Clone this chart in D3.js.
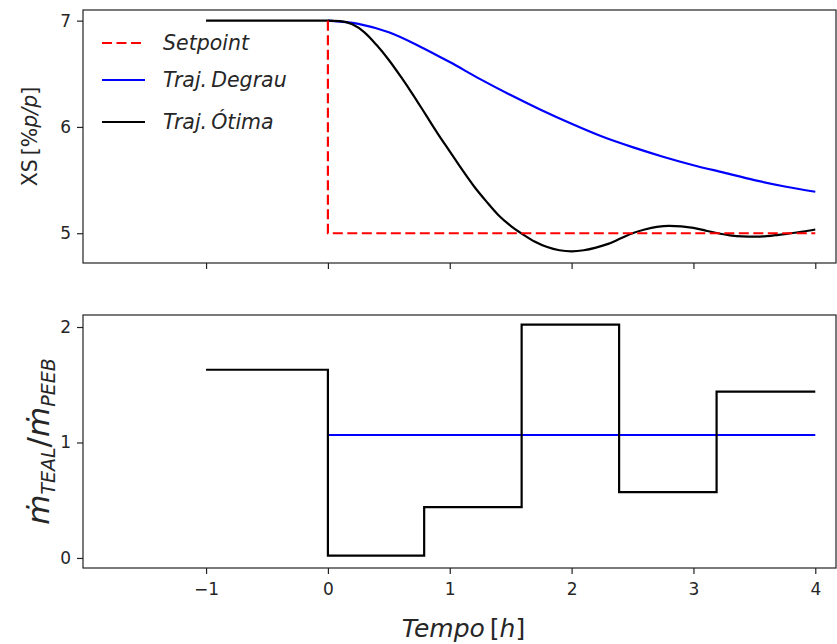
<!DOCTYPE html>
<html>
<head>
<meta charset="utf-8">
<script src="https://cdn.jsdelivr.net/npm/d3@7"></script>
<style>
  html, body { margin: 0; padding: 0; background: #fff; }
  svg { display: block; font-family: "DejaVu Sans", sans-serif; }
</style>
</head>
<body>
<svg id="chart" width="837" height="644"></svg>
<script>
// Time axis ticks (hours)
const timeTicks = [-1, 0, 1, 2, 3, 4];

// Upper panel: XS [%p/p]
const xsTicks = [5, 6, 7];
const setpointTime = [0, 0, 4];
const setpointXS = [7, 5, 5];
const degrauTime = [0, 0.25, 0.5, 0.75, 1, 1.25, 1.5, 1.75, 2, 2.25, 2.5, 2.75, 3, 3.25, 3.5, 3.75, 4];
const degrauXS = [7, 6.97, 6.89, 6.76, 6.61, 6.45, 6.3, 6.16, 6.03, 5.91, 5.81, 5.72, 5.64, 5.57, 5.5, 5.44, 5.39];
const otimaTime = [-1, 0, 0.1, 0.2, 0.3, 0.4, 0.5, 0.6, 0.7, 0.8, 0.9, 1.0, 1.1, 1.2, 1.3, 1.4, 1.5, 1.6, 1.7, 1.8, 1.9, 2.0,
  2.1, 2.2, 2.3, 2.4, 2.5, 2.6, 2.7, 2.8, 2.9, 3.0, 3.1, 3.2, 3.3, 3.4, 3.5, 3.6, 3.7, 3.8, 3.9, 4.0];
const otimaXS = [7, 7, 6.995, 6.965, 6.89, 6.77, 6.63, 6.47, 6.3, 6.12, 5.94, 5.77, 5.6, 5.44, 5.3, 5.17, 5.07, 4.99, 4.92, 4.87, 4.84, 4.83,
  4.84, 4.865, 4.9, 4.95, 5.0, 5.035, 5.06, 5.07, 5.065, 5.05, 5.025, 5.0, 4.98, 4.97, 4.968, 4.972, 4.985, 5.0, 5.015, 5.035];

// Lower panel: mass-flow ratio
const ratioTicks = [0, 1, 2];
const stepTime = [-1, 0, 0.79, 1.59, 2.39, 3.19, 4];
const stepRatio = [1.63, 0.02, 0.44, 2.02, 0.57, 1.44, 1.44];
const degrauRatioTime = [0, 4];
const degrauRatio = [1.065, 1.065];

// Legend entries
const legendLabels = ["Setpoint", "Traj.\u2009Degrau", "Traj.\u2009\u00D3tima"];
const legendColors = ["#ff0000", "#0000ff", "#000000"];
const legendDash = ["10,4.5", null, null];

const svg = d3.select("#chart");
svg.append("rect").attr("width", 837).attr("height", 644).attr("fill", "#fff");

const left = 83, right = 836;
const top1 = { y0: 10, y1: 263 };
const top2 = { y0: 315, y1: 568 };

const x = d3.scaleLinear().domain([-2.01, 4.17]).range([left, right]);
const y1 = d3.scaleLinear().domain([4.72, 7.10]).range([top1.y1, top1.y0]);
const y2 = d3.scaleLinear().domain([-0.087, 2.104]).range([top2.y1, top2.y0]);

const textColor = "#262626";
const fmtMinus = d => d < 0 ? "\u2212" + Math.abs(d) : String(d);

function styleAxis(g) {
  g.select(".domain").remove();
  g.selectAll(".tick line").attr("stroke", "#222").attr("stroke-width", 1.2);
  g.selectAll(".tick text").attr("fill", textColor).style("font-size", "17px")
    .style("font-family", "DejaVu Sans, sans-serif");
}

// ---- Upper panel ----
const p1 = svg.append("g");
p1.append("g").attr("transform", `translate(${left},0)`)
  .call(d3.axisLeft(y1).tickValues(xsTicks).tickSize(6).tickPadding(6).tickFormat(fmtMinus))
  .call(styleAxis);
p1.append("g").attr("transform", `translate(0,${top1.y1})`)
  .call(d3.axisBottom(x).tickValues(timeTicks).tickSize(6).tickFormat(""))
  .call(styleAxis);

const line1 = d3.line().x(d => x(d[0])).y(d => y1(d[1]));
const smooth1 = d3.line().x(d => x(d[0])).y(d => y1(d[1])).curve(d3.curveMonotoneX);

p1.append("path")
  .datum(degrauTime.map((t, i) => [t, degrauXS[i]]))
  .attr("d", smooth1).attr("fill", "none").attr("stroke", "#0000ff").attr("stroke-width", 2.2);
p1.append("path")
  .datum(otimaTime.map((t, i) => [t, otimaXS[i]]))
  .attr("d", smooth1).attr("fill", "none").attr("stroke", "#000").attr("stroke-width", 2.2);
p1.append("path")
  .datum(setpointTime.map((t, i) => [t, setpointXS[i]]))
  .attr("d", line1).attr("fill", "none").attr("stroke", "#ff0000").attr("stroke-width", 2.2)
  .attr("stroke-dasharray", "10,4.5");

p1.append("rect").attr("x", left).attr("y", top1.y0)
  .attr("width", right - left).attr("height", top1.y1 - top1.y0)
  .attr("fill", "none").attr("stroke", "#222").attr("stroke-width", 1.2);

// Legend
const lg = p1.append("g");
const legendY = [43, 80, 122];
legendLabels.forEach((lab, i) => {
  lg.append("line").attr("x1", 102).attr("x2", 145).attr("y1", legendY[i]).attr("y2", legendY[i])
    .attr("stroke", legendColors[i]).attr("stroke-width", 2.2)
    .attr("stroke-dasharray", legendDash[i]);
  lg.append("text").attr("x", 163).attr("y", legendY[i]).attr("dy", "0.35em")
    .attr("fill", textColor).style("font-size", "20.5px").style("font-style", "italic")
    .text(lab);
});

// Y label upper
const yl1 = svg.append("text")
  .attr("transform", `translate(37,${(top1.y0 + top1.y1) / 2}) rotate(-90)`)
  .attr("text-anchor", "middle").attr("fill", textColor).style("font-size", "20.5px");
yl1.append("tspan").text("XS\u2009[%");
yl1.append("tspan").style("font-style", "italic").text("p/p");
yl1.append("tspan").text("]");

// ---- Lower panel ----
const p2 = svg.append("g");
p2.append("g").attr("transform", `translate(${left},0)`)
  .call(d3.axisLeft(y2).tickValues(ratioTicks).tickSize(6).tickPadding(6).tickFormat(fmtMinus))
  .call(styleAxis);
p2.append("g").attr("transform", `translate(0,${top2.y1})`)
  .call(d3.axisBottom(x).tickValues(timeTicks).tickSize(6).tickPadding(9).tickFormat(fmtMinus))
  .call(styleAxis);

const step2 = d3.line().x(d => x(d[0])).y(d => y2(d[1])).curve(d3.curveStepAfter);
const line2 = d3.line().x(d => x(d[0])).y(d => y2(d[1]));

p2.append("path")
  .datum(degrauRatioTime.map((t, i) => [t, degrauRatio[i]]))
  .attr("d", line2).attr("fill", "none").attr("stroke", "#0000ff").attr("stroke-width", 2.2);
p2.append("path")
  .datum(stepTime.map((t, i) => [t, stepRatio[i]]))
  .attr("d", step2).attr("fill", "none").attr("stroke", "#000").attr("stroke-width", 2.2);

p2.append("rect").attr("x", left).attr("y", top2.y0)
  .attr("width", right - left).attr("height", top2.y1 - top2.y0)
  .attr("fill", "none").attr("stroke", "#222").attr("stroke-width", 1.2);

// Y label lower: mass-flow ratio with subscripts
const yl2 = svg.append("text")
  .attr("transform", `translate(49,${(top2.y0 + top2.y1) / 2}) rotate(-90)`)
  .attr("text-anchor", "middle").attr("fill", textColor).style("font-size", "31px");
yl2.append("tspan").style("font-style", "italic").text("\u1E41");
yl2.append("tspan").style("font-size", "19px").style("font-style", "italic").attr("dy", 6).text("TEAL");
yl2.append("tspan").attr("dy", -6).text("/");
yl2.append("tspan").style("font-style", "italic").text("\u1E41");
yl2.append("tspan").style("font-size", "19px").style("font-style", "italic").attr("dy", 6).text("PEEB");

// X label
const xl = svg.append("text")
  .attr("x", (left + right) / 2 + 4).attr("y", 637)
  .attr("text-anchor", "middle").attr("fill", textColor).style("font-size", "25px");
xl.append("tspan").style("font-style", "italic").text("Tempo");
xl.append("tspan").text("\u2009[");
xl.append("tspan").style("font-style", "italic").text("h");
xl.append("tspan").text("]");
</script>
</body>
</html>
